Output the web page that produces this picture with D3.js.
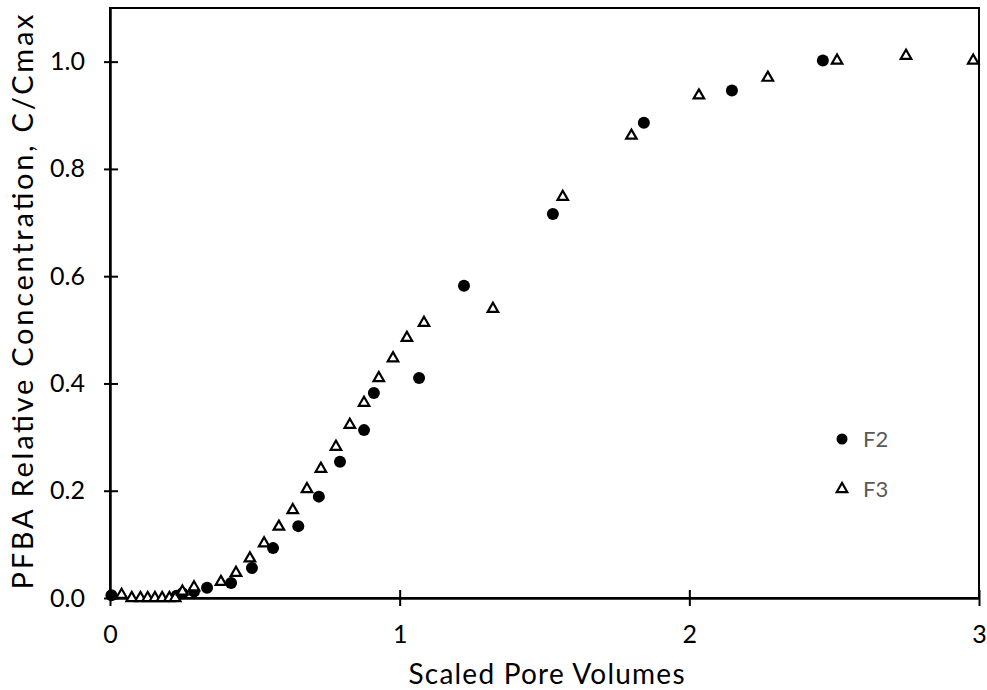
<!DOCTYPE html>
<html>
<head>
<meta charset="utf-8">
<script src="https://cdn.jsdelivr.net/npm/d3@7"></script>
<style>
  body { margin: 0; background: #ffffff; }
  text { font-family: Lato, "Open Sans", sans-serif; }
</style>
</head>
<body>
<script>
// series F2 (filled circles)
var f2X = [0.005, 0.23, 0.25, 0.29, 0.335, 0.418, 0.49, 0.563, 0.65, 0.721, 0.794, 0.877, 0.911, 1.067, 1.222, 1.529, 1.843, 2.147, 2.461];
var f2Y = [0.005, 0.004, 0.009, 0.012, 0.019, 0.028, 0.056, 0.093, 0.134, 0.189, 0.254, 0.313, 0.382, 0.410, 0.582, 0.716, 0.886, 0.946, 1.002];

// series F3 (open triangles)
var f3X = [0.04, 0.075, 0.105, 0.13, 0.155, 0.18, 0.205, 0.225, 0.25, 0.29, 0.383, 0.435, 0.483, 0.532, 0.583, 0.631, 0.68, 0.728, 0.78, 0.828, 0.877, 0.928, 0.977, 1.025, 1.084, 1.322, 1.563, 1.80, 2.033, 2.271, 2.51, 2.748, 2.98];
var f3Y = [0.006, 0.0, 0.0, 0.0, 0.0, 0.0, 0.0, 0.0, 0.012, 0.02, 0.03, 0.047, 0.074, 0.102, 0.133, 0.164, 0.203, 0.241, 0.282, 0.323, 0.364, 0.410, 0.447, 0.485, 0.513, 0.539, 0.748, 0.862, 0.937, 0.970, 1.002, 1.011, 1.002];

var xTicks = [0, 1, 2, 3];
var yTicks = [0, 0.2, 0.4, 0.6, 0.8, 1.0];

var margin = {top: 8, right: 8, bottom: 92, left: 110},
    width = 987 - margin.left - margin.right,
    height = 690 - margin.top - margin.bottom;

var x = d3.scaleLinear().domain([0, 3]).range([0, width]);
var y = d3.scaleLinear().domain([0, 1.1]).range([height, 0]);

var svg = d3.select("body").append("svg")
    .attr("width", 987)
    .attr("height", 690)
  .append("g")
    .attr("transform", "translate(" + margin.left + "," + margin.top + ")");

// frame
svg.append("rect")
    .attr("width", width)
    .attr("height", height)
    .attr("fill", "none")
    .attr("stroke", "#000")
    .attr("stroke-width", 2);

// x axis
var gx = svg.append("g")
    .attr("transform", "translate(0," + height + ")")
    .call(d3.axisBottom(x).tickValues(xTicks).tickFormat(d3.format("d")).tickSizeOuter(0));
gx.select(".domain").attr("stroke-width", 2.5);
gx.selectAll(".tick line").attr("y1", -8).attr("y2", 8).attr("stroke-width", 2);
gx.selectAll(".tick text").attr("y", 27).attr("font-size", "25px").attr("fill", "#000")
    .attr("font-family", "Lato, sans-serif");

// y axis
var gy = svg.append("g")
    .call(d3.axisLeft(y).tickValues(yTicks).tickFormat(d3.format(".1f")).tickSizeOuter(0));
gy.select(".domain").attr("stroke-width", 2.5);
gy.selectAll(".tick line").attr("x1", -6).attr("x2", 8).attr("stroke-width", 2);
gy.selectAll(".tick text").attr("x", -25).attr("font-size", "25px").attr("fill", "#000")
    .attr("font-family", "Lato, sans-serif");

// axis titles
svg.append("text")
    .attr("x", width / 2 + 2)
    .attr("y", height + 86)
    .attr("text-anchor", "middle")
    .attr("font-size", "28px")
    .attr("textLength", 276)
    .attr("lengthAdjust", "spacing")
    .text("Scaled Pore Volumes");

svg.append("text")
    .attr("transform", "rotate(-90)")
    .attr("x", -(height / 2) + 1)
    .attr("y", -77)
    .attr("text-anchor", "middle")
    .attr("font-size", "29px")
    .attr("textLength", 575)
    .attr("lengthAdjust", "spacing")
    .text("PFBA Relative Concentration, C/Cmax");

// F2 circles
svg.selectAll(".f2")
    .data(f2X)
  .enter().append("circle")
    .attr("class", "f2")
    .attr("cx", function(d) { return x(d); })
    .attr("cy", function(d, i) { return y(f2Y[i]); })
    .attr("r", 6)
    .attr("fill", "#000");

// F3 triangles
var tri = d3.symbol().type(d3.symbolTriangle).size(48);
svg.selectAll(".f3")
    .data(f3X)
  .enter().append("path")
    .attr("class", "f3")
    .attr("d", tri)
    .attr("transform", function(d, i) { return "translate(" + x(d) + "," + y(f3Y[i]) + ")"; })
    .attr("fill", "#fff")
    .attr("stroke", "#000")
    .attr("stroke-width", 2.2);

// legend
var legend = svg.append("g").attr("transform", "translate(" + (842 - margin.left) + "," + (439 - margin.top) + ")");
legend.append("circle").attr("r", 5.5).attr("fill", "#000");
legend.append("text").attr("x", 21).attr("y", 8).attr("font-size", "22px").attr("fill", "#595959").text("F2");
legend.append("path").attr("d", tri).attr("transform", "translate(0,50)")
    .attr("fill", "#fff").attr("stroke", "#000").attr("stroke-width", 2.2);
legend.append("text").attr("x", 21).attr("y", 58).attr("font-size", "22px").attr("fill", "#595959").text("F3");
</script>
</body>
</html>
